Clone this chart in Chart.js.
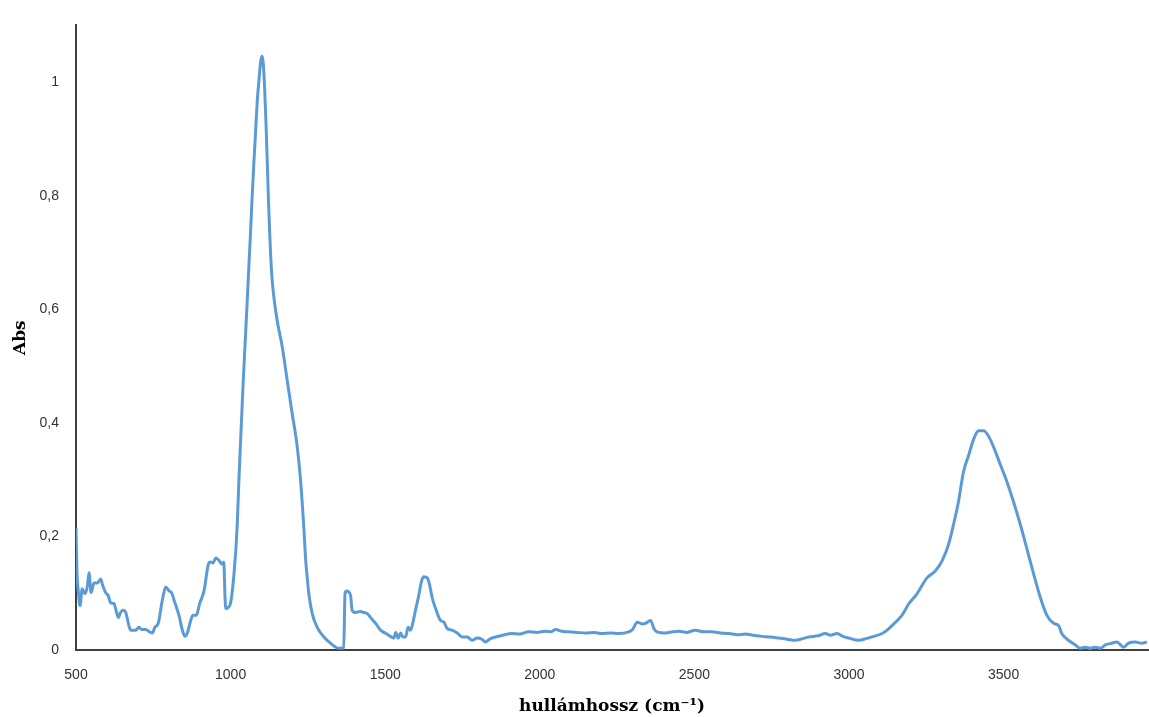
<!DOCTYPE html>
<html>
<head>
<meta charset="utf-8">
<script src="https://cdn.jsdelivr.net/npm/chart.js@4.4.0/dist/chart.umd.min.js"></script>
<style>
  html, body { margin: 0; padding: 0; background: #ffffff; }
  #wrap { width: 1149px; height: 717px; }
</style>
</head>
<body>
<div id="wrap"><canvas id="c" width="1149" height="717"></canvas></div>
<script>
// Wavenumbers (cm-1)
const wavenumbers = [
  500,503,508,513,520,529,537,542,549,558,569,580,585,596,604,612,623,628,637,644,652,661,671,677,693,704,712,725,741,747,755,766,779,790,801,809,820,833,844,852,860,871,878,889,900,914,928,935,943,952,962,973,978,982,985,992,1000,1011,1021,1027,1034,1041,1049,1056,1059,1064,1069,1075,1081,1086,1092,1097,1102,1106,1110,1114,1118,1122,1126,1130,1134,1140,1151,1167,1183,1199,1215,1226,1237,1243,1248,1253,1264,1280,1302,1323,1350,1366,1370,1375,1380,1388,1393,1404,1420,1431,1442,1453,1469,1485,1496,1506,1517,1528,1534,1542,1550,1557,1566,1574,1582,1589,1598,1607,1618,1625,1636,1643,1652,1663,1679,1690,1700,1716,1733,1749,1765,1781,1797,1813,1824,1840,1857,1880,1909,1935,1964,1990,2018,2035,2051,2070,2094,2120,2148,2175,2200,2230,2255,2288,2300,2315,2331,2342,2358,2369,2379,2406,2430,2449,2475,2503,2530,2556,2585,2611,2640,2665,2690,2719,2745,2773,2800,2827,2850,2870,2900,2924,2940,2961,2980,2999,3032,3055,3074,3107,3125,3139,3171,3193,3220,3252,3279,3301,3322,3338,3354,3370,3387,3403,3419,3435,3451,3468,3489,3511,3532,3554,3575,3597,3619,3640,3662,3678,3688,3710,3732,3748,3764,3780,3796,3813,3829,3850,3866,3888,3904,3926,3947,3963
];
// Absorbance values
const absorbance = [
  0.215,0.140,0.100,0.078,0.108,0.099,0.113,0.136,0.101,0.118,0.118,0.125,0.116,0.101,0.096,0.083,0.082,0.073,0.057,0.066,0.070,0.066,0.043,0.035,0.035,0.040,0.036,0.036,0.031,0.030,0.040,0.047,0.087,0.111,0.104,0.101,0.083,0.061,0.035,0.024,0.030,0.052,0.061,0.061,0.082,0.104,0.151,0.155,0.153,0.162,0.158,0.151,0.155,0.092,0.073,0.075,0.083,0.134,0.215,0.301,0.388,0.475,0.562,0.640,0.675,0.730,0.790,0.855,0.915,0.965,1.005,1.035,1.046,1.030,0.990,0.935,0.870,0.800,0.740,0.690,0.655,0.621,0.579,0.534,0.475,0.417,0.360,0.301,0.214,0.157,0.127,0.099,0.064,0.040,0.023,0.012,0.003,0.004,0.099,0.104,0.103,0.096,0.070,0.066,0.068,0.066,0.064,0.057,0.047,0.035,0.031,0.028,0.024,0.021,0.031,0.021,0.030,0.023,0.023,0.040,0.035,0.047,0.070,0.092,0.122,0.129,0.127,0.116,0.092,0.073,0.052,0.049,0.038,0.035,0.030,0.023,0.023,0.017,0.021,0.019,0.014,0.020,0.023,0.026,0.029,0.028,0.032,0.031,0.033,0.032,0.036,0.033,0.032,0.031,0.030,0.031,0.029,0.030,0.029,0.032,0.036,0.049,0.046,0.047,0.052,0.038,0.032,0.030,0.032,0.033,0.031,0.035,0.032,0.032,0.030,0.029,0.027,0.028,0.026,0.024,0.023,0.021,0.019,0.017,0.020,0.023,0.025,0.029,0.026,0.029,0.024,0.021,0.017,0.020,0.023,0.029,0.036,0.043,0.061,0.081,0.099,0.127,0.139,0.157,0.186,0.221,0.261,0.313,0.343,0.371,0.386,0.386,0.377,0.357,0.327,0.296,0.261,0.221,0.179,0.134,0.092,0.061,0.047,0.043,0.029,0.017,0.009,0.003,0.005,0.003,0.005,0.003,0.009,0.012,0.014,0.005,0.012,0.014,0.012,0.014
];
const xTicks = [500, 1000, 1500, 2000, 2500, 3000, 3500];
const yTicks = [0, 0.2, 0.4, 0.6, 0.8, 1];
const xTitle = 'hullámhossz (cm⁻¹)';
const yTitle = 'Abs';

const points = wavenumbers.map((x, i) => ({ x: x, y: absorbance[i] }));
const tickFont = { family: 'Liberation Sans', size: 14 };
const titleFont = { family: 'DejaVu Serif', size: 17, weight: 'bold', lineHeight: 1.2 };

new Chart(document.getElementById('c'), {
  type: 'line',
  data: {
    datasets: [{
      data: points,
      borderColor: '#5b9bd5',
      borderWidth: 3,
      pointRadius: 0,
      fill: false,
      cubicInterpolationMode: 'monotone'
    }]
  },
  options: {
    responsive: false,
    animation: false,
    devicePixelRatio: 1,
    layout: { padding: { top: 18, right: 1, left: 0, bottom: 0 } },
    plugins: { legend: { display: false }, tooltip: { enabled: false } },
    scales: {
      x: {
        type: 'linear',
        min: 500,
        max: 3967,
        grid: { display: false, drawTicks: false },
        border: { display: true, color: '#404040', width: 2 },
        afterBuildTicks: (s) => { s.ticks = xTicks.map(v => ({ value: v })); },
        afterFit: (s) => { s.height = 67; },
        ticks: {
          font: tickFont,
          color: '#333333',
          padding: 17,
          maxRotation: 0,
          autoSkip: false,
          callback: (v) => String(v)
        },
        title: {
          display: true,
          text: xTitle,
          color: '#000000',
          font: titleFont,
          padding: { top: 0, bottom: 0 }
        }
      },
      y: {
        type: 'linear',
        min: 0,
        max: 1.1,
        grid: { display: false, drawTicks: false },
        border: { display: true, color: '#404040', width: 2 },
        afterBuildTicks: (s) => { s.ticks = yTicks.map(v => ({ value: v })); },
        afterFit: (s) => { s.width = 76; },
        ticks: {
          font: tickFont,
          color: '#333333',
          padding: 17,
          autoSkip: false,
          callback: (v) => String(Math.round(v * 10) / 10).replace('.', ',')
        },
        title: {
          display: true,
          text: yTitle,
          color: '#000000',
          font: titleFont,
          padding: { top: 10, bottom: 0 }
        }
      }
    }
  }
});
</script>
</body>
</html>
